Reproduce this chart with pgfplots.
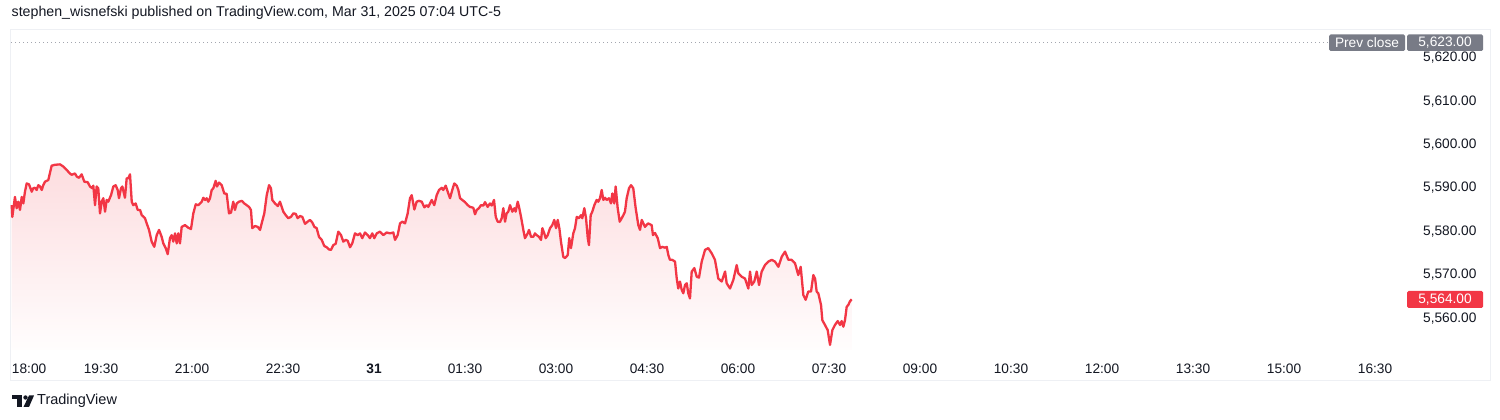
\documentclass[border=0pt]{standalone}
\usepackage{fontspec}
\setmainfont{Liberation Sans}
\usepackage{pgfplots}
\usepackage{pgfplotstable}
\pgfplotsset{compat=1.18}
\definecolor{tvred}{HTML}{F23645}
\definecolor{tvtext}{HTML}{131722}
\definecolor{tvgray}{HTML}{787B86}
\definecolor{tvframe}{HTML}{EEF0F4}
\definecolor{tvdot}{HTML}{A3A6AF}
\newcommand{\fs}{\fontsize{13.7}{15}\selectfont}
\pgfplotstableread{
m v
1.7 5585.7
2.3 5583.0
4.9 5587.6
6.6 5585.0
8.2 5586.5
9.9 5584.6
11.6 5587.6
13.2 5586.1
14.8 5588.8
16.5 5590.7
18.8 5590.5
21.5 5588.8
23.0 5589.6
24.7 5589.7
26.4 5589.2
28.0 5590.3
29.7 5590.0
31.4 5589.2
32.9 5590.3
34.6 5591.1
37.9 5591.5
41.2 5594.8
44.5 5595.0
49.5 5595.1
52.7 5594.6
56.1 5593.8
59.3 5593.0
61.0 5592.7
64.3 5593.0
66.0 5592.3
68.2 5592.0
70.9 5592.8
73.5 5591.1
76.8 5591.0
79.1 5590.0
81.4 5589.6
82.4 5590.2
84.1 5585.7
85.7 5590.0
87.3 5589.6
89.0 5583.8
90.7 5586.5
92.3 5587.3
94.0 5584.2
95.6 5586.9
97.2 5586.5
99.9 5588.0
102.2 5590.0
104.5 5590.3
106.5 5589.2
107.8 5587.3
109.8 5589.6
111.1 5590.0
113.7 5587.4
115.4 5591.9
117.0 5591.9
118.7 5592.8
120.4 5586.5
121.9 5585.7
124.3 5586.1
126.3 5584.6
128.6 5584.6
130.3 5583.4
133.5 5582.7
135.2 5581.5
137.5 5580.0
140.1 5577.3
142.7 5576.1
145.1 5578.8
147.4 5580.0
150.0 5578.4
151.6 5576.9
154.0 5575.8
156.0 5574.4
158.2 5578.1
159.9 5578.8
161.5 5577.3
163.2 5579.2
164.9 5576.9
166.4 5579.2
168.1 5576.9
169.8 5580.7
173.1 5581.1
176.3 5580.5
179.0 5580.2
181.3 5583.8
183.7 5585.9
186.2 5585.7
189.6 5586.5
191.2 5587.4
192.9 5586.9
194.5 5587.3
196.1 5586.5
197.8 5587.3
199.5 5589.2
201.1 5589.6
203.4 5591.3
204.7 5590.0
206.7 5590.9
209.4 5590.3
211.9 5588.4
214.3 5588.3
216.6 5583.8
218.6 5584.0
220.8 5586.5
222.5 5584.6
224.2 5586.1
226.5 5586.5
229.2 5586.7
231.7 5586.1
234.1 5585.7
236.4 5585.3
238.3 5584.6
239.6 5580.4
242.3 5580.9
245.0 5580.7
247.3 5580.0
248.9 5581.5
251.5 5583.8
253.9 5588.0
256.2 5590.3
258.1 5589.6
259.4 5586.9
262.1 5586.1
264.8 5585.5
267.0 5586.5
268.7 5585.3
270.3 5584.2
272.7 5583.4
275.2 5582.7
277.9 5583.0
280.2 5583.8
282.6 5583.7
284.5 5582.7
286.8 5583.2
289.1 5583.0
291.8 5581.4
294.4 5581.9
296.7 5582.3
299.0 5581.7
301.0 5580.7
303.3 5580.4
305.6 5578.4
308.3 5577.7
310.8 5576.3
313.2 5576.0
315.5 5575.5
317.5 5575.4
319.7 5576.5
322.1 5576.8
324.7 5579.6
327.4 5578.8
329.6 5577.3
332.0 5577.7
334.0 5577.5
336.3 5576.0
338.5 5576.9
341.2 5579.2
343.9 5578.8
346.2 5579.2
348.4 5578.1
351.1 5579.4
353.8 5578.8
356.0 5578.1
358.3 5579.2
360.3 5578.1
362.7 5579.2
365.9 5579.6
369.2 5578.8
372.5 5579.4
375.8 5579.2
379.1 5579.4
380.8 5577.7
383.4 5578.8
385.7 5581.5
388.0 5581.9
390.7 5581.5
393.3 5583.8
395.6 5587.3
397.3 5588.0
399.9 5584.7
402.2 5586.5
404.5 5586.7
407.2 5586.5
409.8 5585.2
412.1 5585.7
413.7 5585.3
417.1 5586.9
419.6 5585.7
422.0 5588.0
424.3 5589.2
427.0 5589.7
428.5 5589.2
430.9 5590.2
432.9 5588.8
435.2 5587.3
437.4 5589.2
439.4 5590.7
441.8 5590.2
443.4 5589.2
445.1 5587.3
447.3 5586.9
450.0 5586.4
452.7 5585.7
454.9 5585.3
458.2 5585.1
459.9 5583.6
461.6 5584.6
463.8 5585.0
465.8 5585.7
468.1 5585.6
469.8 5586.4
472.4 5585.3
474.7 5586.1
476.4 5585.6
478.7 5586.9
480.4 5583.0
482.3 5581.9
484.6 5581.8
486.3 5582.7
487.9 5585.0
489.6 5581.9
491.2 5583.8
492.8 5584.2
494.5 5585.7
496.8 5584.2
498.8 5585.0
500.1 5584.2
502.1 5586.5
503.4 5585.3
505.4 5583.0
507.7 5580.0
509.3 5578.1
512.0 5579.2
513.3 5580.0
515.3 5578.4
517.5 5578.4
519.2 5579.2
520.9 5578.8
523.2 5578.4
525.2 5577.7
526.5 5580.4
528.4 5579.2
529.8 5578.1
531.8 5578.8
534.1 5580.4
536.3 5581.1
538.3 5582.3
540.0 5580.4
541.7 5582.3
543.3 5580.4
544.9 5577.3
547.2 5573.8
548.9 5573.5
551.6 5574.2
553.1 5578.1
554.8 5575.8
557.1 5579.2
558.8 5580.4
560.5 5583.0
562.7 5582.7
564.7 5583.4
566.0 5582.7
568.0 5585.0
569.7 5582.7
571.4 5578.1
572.6 5576.5
574.3 5583.4
575.9 5584.2
577.9 5585.7
580.2 5586.9
581.8 5586.5
583.5 5587.3
585.2 5589.2
586.8 5586.9
588.5 5587.4
590.1 5586.9
592.4 5587.3
594.4 5586.1
595.7 5588.4
597.6 5586.1
599.0 5590.0
601.0 5585.0
603.0 5581.9
605.0 5582.7
606.6 5583.4
608.2 5584.2
609.9 5587.3
612.2 5589.6
614.2 5590.3
616.4 5589.6
618.8 5585.0
621.4 5581.1
623.1 5580.0
624.8 5582.3
628.0 5580.7
631.0 5581.5
634.6 5581.1
635.9 5578.8
637.9 5579.3
640.6 5578.1
642.9 5575.8
645.1 5576.1
647.8 5575.9
649.5 5576.1
651.1 5574.2
652.7 5573.1
655.0 5573.1
657.7 5572.7
659.4 5568.8
660.9 5566.5
662.6 5568.1
664.3 5566.2
665.9 5565.4
667.6 5567.3
669.3 5567.7
670.8 5565.4
672.5 5564.2
674.2 5570.4
676.8 5571.2
679.2 5569.2
681.4 5569.0
684.1 5572.7
687.4 5575.4
690.6 5575.8
694.0 5574.6
697.2 5573.1
700.5 5568.8
703.9 5568.1
707.2 5570.4
708.8 5567.7
712.1 5566.5
715.4 5568.5
718.7 5571.9
720.3 5570.0
723.7 5569.2
726.9 5568.8
730.2 5566.5
731.9 5570.4
733.5 5567.3
736.1 5568.1
738.5 5570.4
740.8 5567.3
743.4 5570.4
746.7 5571.9
750.0 5572.7
753.3 5573.1
756.6 5572.7
759.9 5571.5
763.2 5573.8
766.5 5575.0
769.8 5573.1
773.1 5573.1
776.4 5572.3
779.6 5569.6
782.0 5571.5
784.6 5565.0
786.9 5563.9
789.5 5565.8
792.2 5565.8
794.5 5569.6
796.2 5568.8
797.8 5565.8
799.4 5565.4
802.1 5562.7
803.4 5559.2
806.0 5558.1
808.7 5556.9
811.0 5553.5
813.3 5556.9
815.9 5558.1
818.6 5559.0
820.9 5558.1
822.5 5559.0
824.2 5557.7
825.8 5559.2
827.5 5562.3
829.1 5562.7
830.8 5563.6
832.5 5564.0
}\pricedata
\begin{document}
\begin{tikzpicture}[x=1pt,y=1pt]
\fill[white] (0,0) rectangle (1500,420);
\useasboundingbox (0,0) rectangle (1500,420);
% frame
\draw[tvframe, line width=1pt] (10,39) rectangle (1490,390);
% header
\node[anchor=west, text=tvtext, inner sep=0pt] at (11.5,407) {\fontsize{14.2}{16}\selectfont stephen\_wisnefski published on TradingView.com, Mar 31, 2025 07:04 UTC-5};
\begin{axis}[
  at={(10pt,70pt)}, anchor=south west,
  scale only axis, width=1400pt, height=320pt,
  xmin=0, xmax=1384.6, ymin=5552.33, ymax=5626.06,
  axis line style={draw=none}, major tick length=0pt, tick style={draw=none},
  xtick={0,90,180,270,360,450,540,630,720,810,900,990,1080,1170,1260,1350},
  xticklabels={\makebox[0pt][l]{\hspace*{2pt}18:00},19:30,21:00,22:30,\textbf{31},01:30,03:00,04:30,06:00,07:30,09:00,10:30,12:00,13:30,15:00,16:30},
  xticklabel style={font=\fs, text=tvtext, yshift=-10pt},
  ytick={5560,5570,5580,5590,5600,5610,5620},
  yticklabel pos=right,
  scaled y ticks=false,
  /pgf/number format/assume math mode=true,
  yticklabel style={font=\fs, text=tvtext, anchor=east, xshift=70pt, yshift=-1.5pt,
    /pgf/number format/fixed, /pgf/number format/fixed zerofill,
    /pgf/number format/precision=2, /pgf/number format/1000 sep={,}},
]
\addplot[draw=none, top color=tvred!17, bottom color=tvred!1, forget plot] table[x=m,y=v] {\pricedata} -- (axis cs:832.5,5552.33) -- (axis cs:1.7,5552.33) -- cycle;
\addplot[tvred, line width=2.3pt, line join=round, mark=none] table[x=m,y=v] {\pricedata};
\end{axis}
% prev close
\draw[tvdot, line width=1pt, dash pattern=on 1pt off 3pt] (11,377) -- (1328,377);
\fill[tvgray, rounded corners=1.5pt] (1329,369) rectangle (1405,385.5);
\node[text=white, inner sep=0pt] at (1367,377) {\fs Prev close};
\fill[tvgray, rounded corners=1.5pt] (1407,369) rectangle (1483,385.5);
\node[text=white, inner sep=0pt] at (1445,377) {\fs 5,623.00};
% last price
\fill[tvred, rounded corners=1.5pt] (1407,112) rectangle (1483,129);
\node[text=white, inner sep=0pt] at (1445,120.5) {\fs 5,564.00};
% logo
\fill[tvtext] (12,24.5) rectangle (22,21) ;
\fill[tvtext] (17,21) rectangle (22,13);
\fill[tvtext] (25.5,22.5) circle (2.2);
\fill[tvtext] (29,24.5) -- (34,24.5) -- (29,13) -- (23.5,13) -- cycle;
\node[anchor=west, text=tvtext, inner sep=0pt] at (37,19) {\fontsize{14.5}{16}\selectfont TradingView};
\end{tikzpicture}
\end{document}
